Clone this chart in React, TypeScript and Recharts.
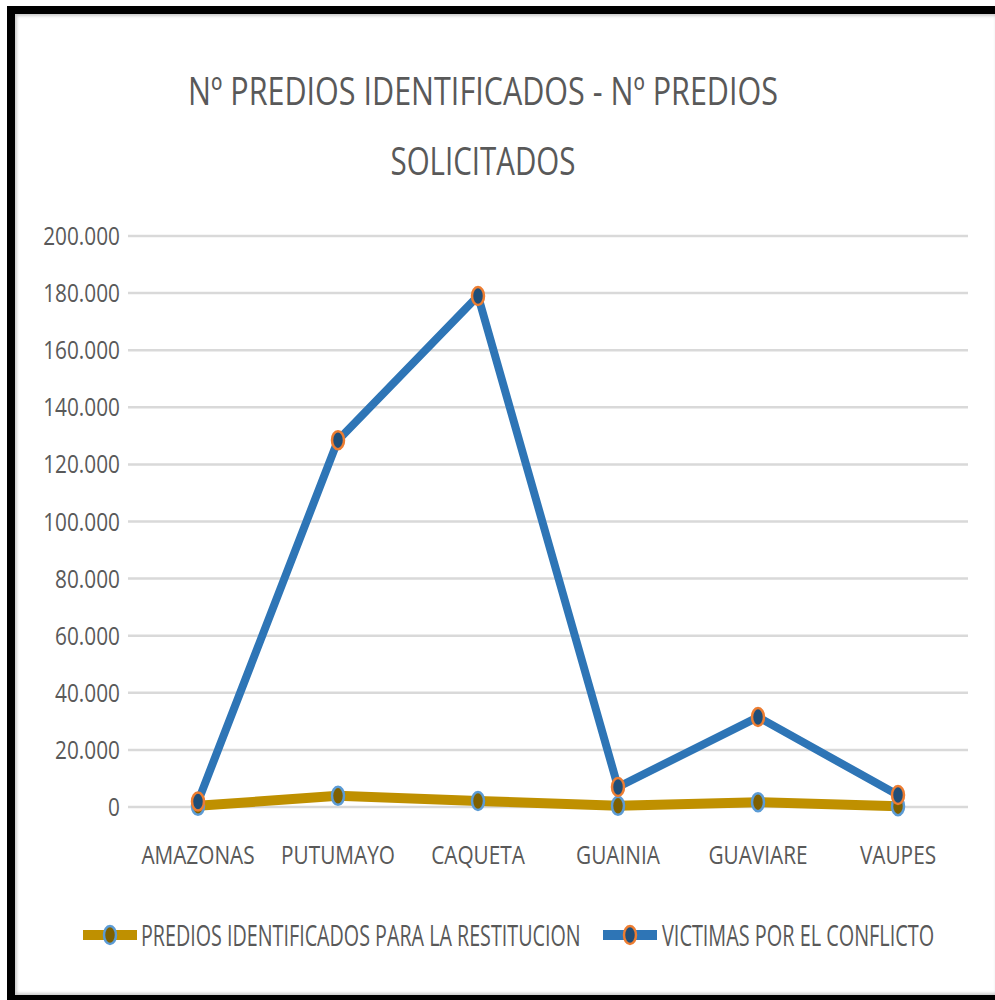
import React from "react";
import { LineChart, Line, XAxis, YAxis, CartesianGrid, Legend, Customized } from "recharts";

const categories = ["AMAZONAS", "PUTUMAYO", "CAQUETA", "GUAINIA", "GUAVIARE", "VAUPES"];
const prediosIdentificados = [400, 3900, 2100, 400, 1700, 300];
const victimasConflicto = [1900, 128500, 179000, 7000, 31500, 4200];
const yTicks = [0, 20000, 40000, 60000, 80000, 100000, 120000, 140000, 160000, 180000, 200000];
const seriesNames = ["PREDIOS IDENTIFICADOS PARA LA RESTITUCION", "VICTIMAS POR EL CONFLICTO"];
const titleLines = ["Nº PREDIOS IDENTIFICADOS - Nº PREDIOS", "SOLICITADOS"];

const data = categories.map((c, i) => ({
  name: c,
  predios: prediosIdentificados[i],
  victimas: victimasConflicto[i],
}));

const TEXT = "#595959";
const FONT = "'Open Sans', sans-serif";
const GOLD = "#BF9000";
const GOLD_DOT = "#7F6000";
const GOLD_DOT_STROKE = "#5B9BD5";
const BLUE = "#2E75B6";
const BLUE_DOT = "#1F4E79";
const BLUE_DOT_STROKE = "#ED7D31";

const fmt = (v: number) => (v === 0 ? "0" : v.toLocaleString("de-DE"));

const YTick = (props: any) => {
  const { x, y, payload } = props;
  return (
    <g transform={`translate(${x},${y + 9}) scale(0.8,1)`}>
      <text x={0} y={0} textAnchor="end" fill={TEXT} fontFamily={FONT} fontSize={26}>
        {fmt(payload.value)}
      </text>
    </g>
  );
};

const XTick = (props: any) => {
  const { x, payload } = props;
  return (
    <g transform={`translate(${x},864) scale(0.8,1)`}>
      <text x={0} y={0} textAnchor="middle" fill={TEXT} fontFamily={FONT} fontSize={26}>
        {payload.value}
      </text>
    </g>
  );
};

const makeDot = (fill: string, stroke: string) => (props: any) => {
  const { cx, cy, index } = props;
  return <ellipse key={`d-${index}`} cx={cx} cy={cy} rx={6} ry={9} fill={fill} stroke={stroke} strokeWidth={2.5} />;
};

const Title = () => (
  <g>
    <text x={483} y={105} textAnchor="middle" fill={TEXT} fontFamily={FONT} fontSize={38} textLength={590} lengthAdjust="spacingAndGlyphs">
      {titleLines[0]}
    </text>
    <text x={483} y={175} textAnchor="middle" fill={TEXT} fontFamily={FONT} fontSize={38} textLength={185} lengthAdjust="spacingAndGlyphs">
      {titleLines[1]}
    </text>
  </g>
);

const LegendContent = () => (
  <svg width={995} height={50} style={{ display: "block" }}>
    <line x1={83} y1={25} x2={137} y2={25} stroke={GOLD} strokeWidth={10} strokeLinecap="butt" />
    <ellipse cx={110} cy={25} rx={6} ry={9} fill={GOLD_DOT} stroke={GOLD_DOT_STROKE} strokeWidth={2.5} />
    <g transform="translate(141,36) scale(0.68,1)">
      <text x={0} y={0} fill={TEXT} fontFamily={FONT} fontSize={29}>
        {seriesNames[0]}
      </text>
    </g>
    <line x1={603} y1={25} x2={657} y2={25} stroke={BLUE} strokeWidth={10} strokeLinecap="butt" />
    <ellipse cx={630} cy={25} rx={6} ry={9} fill={BLUE_DOT} stroke={BLUE_DOT_STROKE} strokeWidth={2.5} />
    <g transform="translate(662,36) scale(0.685,1)">
      <text x={0} y={0} fill={TEXT} fontFamily={FONT} fontSize={29}>
        {seriesNames[1]}
      </text>
    </g>
  </svg>
);

export default function App() {
  return (
    <div style={{ position: "absolute", left: 0, top: 0, width: 995, height: 1000, background: "#fff", overflow: "hidden" }}>
      <div
        style={{
          position: "absolute",
          left: 7,
          top: 6,
          width: 988,
          height: 994,
          boxSizing: "border-box",
          borderTop: "8px solid #000",
          borderLeft: "8px solid #000",
          borderBottom: "5px solid #000",
          boxShadow: "inset 3px 3px 3px -1px #ccc, inset 0 -3px 3px -1px #ccc",
        }}
      />
      <div style={{ position: "absolute", left: 0, top: 0 }}>
        <LineChart width={995} height={1000} data={data} margin={{ top: 236, right: 27, left: 28, bottom: 133 }}>
          <CartesianGrid vertical={false} stroke="#D9D9D9" strokeWidth={2.5} />
          <XAxis
            dataKey="name"
            axisLine={false}
            tickLine={false}
            height={60}
            padding={{ left: 70, right: 70 }}
            tick={<XTick />}
            interval={0}
          />
          <YAxis
            domain={[0, 200000]}
            ticks={yTicks}
            axisLine={false}
            tickLine={false}
            width={100}
            tick={<YTick />}
            interval={0}
          />
          <Legend
            layout="horizontal"
            verticalAlign="middle"
            align="center"
            wrapperStyle={{ top: 910, left: 0, width: 995 }}
            content={<LegendContent />}
          />
          <Line
            type="linear"
            dataKey="predios"
            name={seriesNames[0]}
            stroke={GOLD}
            strokeWidth={10}
            dot={makeDot(GOLD_DOT, GOLD_DOT_STROKE)}
            activeDot={false}
            isAnimationActive={false}
          />
          <Line
            type="linear"
            dataKey="victimas"
            name={seriesNames[1]}
            stroke={BLUE}
            strokeWidth={8}
            dot={makeDot(BLUE_DOT, BLUE_DOT_STROKE)}
            activeDot={false}
            isAnimationActive={false}
          />
          <Customized component={<Title />} />
        </LineChart>
      </div>
    </div>
  );
}
